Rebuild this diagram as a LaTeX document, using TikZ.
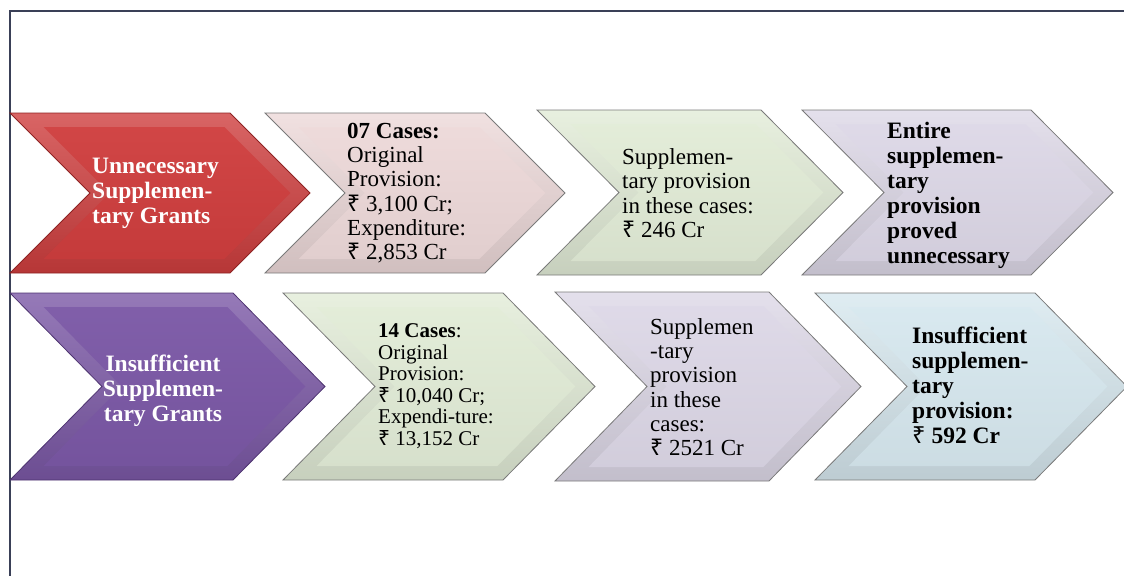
\documentclass[tikz,border=0pt]{standalone}
\usepackage{fontspec}
\setmainfont{Liberation Serif}
\newfontfamily\rupeefont{Noto Sans}
\newcommand\rs{{\rupeefont ₹}}

\definecolor{redc}{HTML}{CF3E3E}
\definecolor{redd}{HTML}{8E2323}
\definecolor{pinkc}{HTML}{EDD9D9}
\definecolor{greenc}{HTML}{E2ECD7}
\definecolor{lavc}{HTML}{DDD8E7}
\definecolor{purpc}{HTML}{7B58A6}
\definecolor{purpd}{HTML}{4E3470}
\definecolor{bluec}{HTML}{D7E8EF}
\definecolor{edgec}{HTML}{7A7A7A}
\definecolor{framec}{HTML}{3A4057}

\def\bev{14}

\tikzset{
    % chevron: width, height, point depth, fill colour, edge colour
    pics/chev/.style n args={5}{code={
        \path[draw=#5, line width=0.8pt, top color=#4!80!white, bottom color=#4!88!black]
            (0,0) -- ({#1-#3},0) -- (#1,{#2/2}) -- ({#1-#3},#2) -- (0,#2) -- (#3,{#2/2}) -- cycle;
        \path[top color=#4!96!white, bottom color=#4!95!black]
            ({2.4*\bev},\bev) -- ({#1-#3-0.4*\bev},\bev) -- ({#1-1.4*\bev},{#2/2})
            -- ({#1-#3-0.4*\bev},{#2-\bev}) -- ({2.4*\bev},{#2-\bev}) -- ({#3+1.4*\bev},{#2/2}) -- cycle;
    }},
    txt/.style={anchor=west, align=left, inner sep=0pt, font=\fontsize{23}{24.3}\selectfont},
    btxt/.style={txt, font=\fontsize{23.5}{25}\selectfont\bfseries}
}

\begin{document}
\begin{tikzpicture}[x=1pt, y=-1pt]
    \useasboundingbox (0,0) rectangle (1124,576);

    % frame
    \draw[framec, line width=1.5pt] (1124,11) -- (10,11) -- (10,576);

    % first row: unnecessary grants
    \pic at (10,113) {chev={300}{160}{80}{redc}{redd}};
    \pic at (265,113) {chev={300}{160}{80}{pinkc}{edgec}};
    \pic at (537,110) {chev={306}{165}{82}{greenc}{edgec}};
    \pic at (802,110) {chev={311}{165}{82}{lavc}{edgec}};

    \node[btxt, white] (u1) at (92,193) {Unnecessary\\Supplemen-\\tary Grants};
    \node[txt] (u2) at (347,193) {\textbf{07 Cases:}\\Original\\Provision:\\\rs{} 3,100 Cr;\\Expenditure:\\\rs{} 2,853 Cr};
    \node[txt] (u3) at (622,193) {Supplemen-\\tary provision\\in these cases:\\\rs{} 246 Cr};
    \node[btxt] (u4) at (887,195) {Entire\\supplemen-\\tary\\provision\\proved\\unnecessary};

    % second row: insufficient grants
    \pic at (10,293) {chev={315}{187}{92}{purpc}{purpd}};
    \pic at (283,293) {chev={312}{187}{92}{greenc}{edgec}};
    \pic at (555,292) {chev={306}{189}{92}{lavc}{edgec}};
    \pic at (815,293) {chev={312}{187}{92}{bluec}{edgec}};

    \node[btxt, white, align=center, anchor=center] (i1) at (163,391) {Insufficient\\Supplemen-\\tary Grants};
    \node[txt, font=\fontsize{21}{21.5}\selectfont] (i2) at (378,386) {\textbf{14 Cases}:\\Original\\Provision:\\\rs{} 10,040 Cr;\\Expendi-ture:\\\rs{} 13,152 Cr};
    \node[txt] (i3) at (650,387) {Supplemen\\-tary\\provision\\in these\\cases:\\\rs{} 2521 Cr};
    \node[btxt] (i4) at (912,385) {Insufficient\\supplemen-\\tary\\provision:\\\rs{} 592 Cr};
\end{tikzpicture}
\end{document}
